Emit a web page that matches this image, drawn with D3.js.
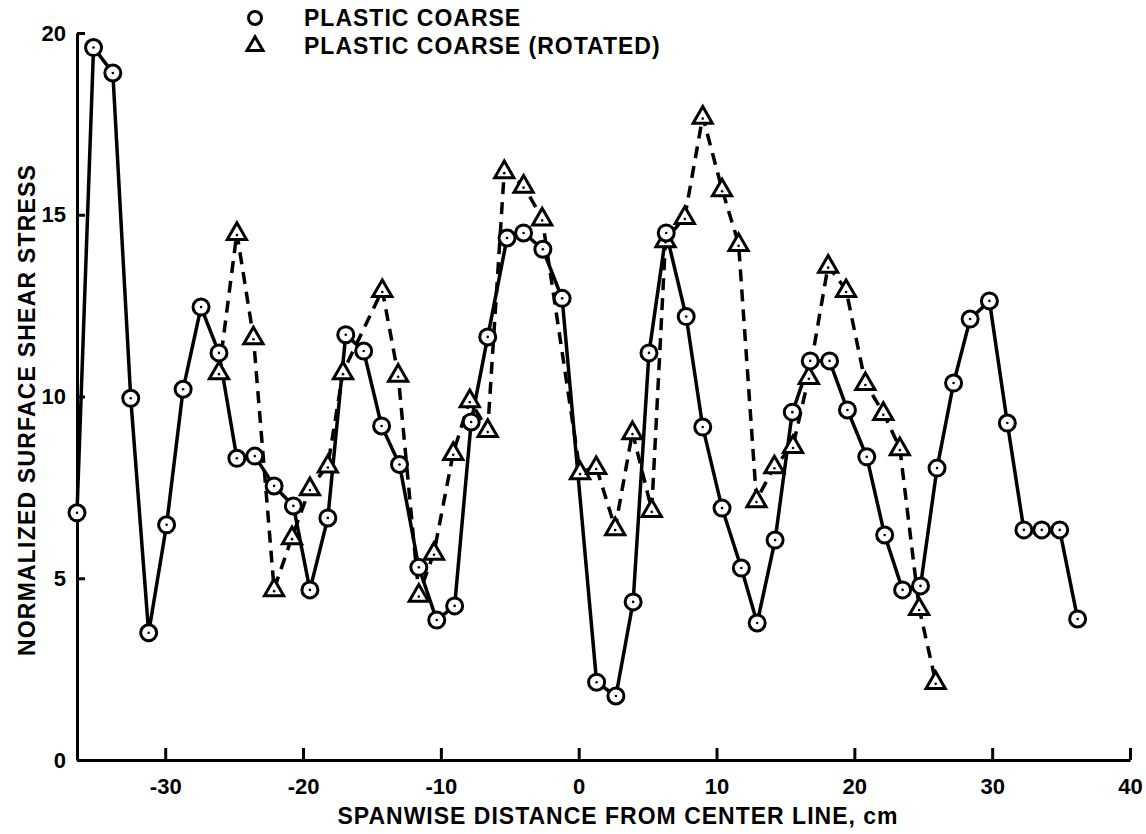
<!DOCTYPE html>
<html>
<head>
<meta charset="utf-8">
<script src="https://cdn.jsdelivr.net/npm/d3@7"></script>
<style>
  body { margin: 0; background: #fff; }
  svg { display: block; font-family: "Liberation Sans", Arial, sans-serif; }
</style>
</head>
<body>
<div id="chart"></div>
<script>
// plastic coarse (solid, circles)
const coarseX = [-36.4, -35.2, -33.8, -32.5, -31.2, -29.9, -28.7, -27.4, -26.1, -24.8, -23.5, -22.1, -20.7, -19.5, -18.2, -16.9, -15.6, -14.3, -13.0,
    -11.6, -10.3, -9.0, -7.8, -6.6, -5.2, -4.0, -2.6, -1.2, 1.3, 2.7, 3.95, 5.1, 6.35, 7.8, 9.0, 10.4, 11.8, 12.95, 14.25,
    15.5, 16.8, 18.2, 19.5, 20.9, 22.2, 23.5, 24.8, 26.0, 27.2, 28.4, 29.8, 31.1, 32.3, 33.6, 34.9, 36.2];
const coarseY = [6.8, 19.6, 18.9, 9.95, 3.5, 6.47, 10.2, 12.46, 11.2, 8.3, 8.36, 7.54, 6.99, 4.68, 6.66, 11.7, 11.25, 9.19, 8.13,
    5.3, 3.85, 4.24, 9.3, 11.64, 14.36, 14.5, 14.05, 12.7, 2.14, 1.76, 4.35, 11.2, 14.5, 12.2, 9.16, 6.93, 5.28, 3.77, 6.05,
    9.57, 10.98, 10.98, 9.63, 8.34, 6.19, 4.68, 4.79, 8.03, 10.37, 12.13, 12.63, 9.27, 6.33, 6.33, 6.33, 3.88];

// plastic coarse rotated (dashed, triangles)
const rotatedX = [-26.1, -24.8, -23.6, -22.1, -20.8, -19.5, -18.2, -17.1, -14.25, -13.1, -11.6, -10.5, -9.1, -7.9, -6.6, -5.4, -4.0, -2.65,
    0.1, 1.27, 2.65, 3.9, 5.3, 6.3, 7.7, 9.0, 10.4, 11.6, 12.9, 14.2, 15.55, 16.7, 18.1, 19.4, 20.8, 22.1, 23.3, 24.7, 25.9];
const rotatedY = [10.67, 14.5, 11.63, 4.7, 6.13, 7.48, 8.1, 10.67, 12.93, 10.6, 4.55, 5.7, 8.45, 9.9, 9.08, 16.2, 15.8, 14.9,
    7.92, 8.06, 6.38, 9.02, 6.88, 14.3, 14.94, 17.7, 15.7, 14.2, 7.15, 8.08, 8.64, 10.54, 13.6, 12.93, 10.37, 9.55, 8.58, 4.18, 2.15];

const xTicks = [-30, -20, -10, 0, 10, 20, 30, 40];
const yTicks = [0, 5, 10, 15, 20];

const width = 1146, height = 834;

const coarse = coarseX.map((d, i) => ({x: d, y: coarseY[i]}));
const rotated = rotatedX.map((d, i) => ({x: d, y: rotatedY[i]}));

let svg = d3.select("#chart")
    .append("svg")
    .attr("width", width)
    .attr("height", height);

let x = d3.scaleLinear()
    .domain([-36.4, 40])
    .range([77, 1130]);

let y = d3.scaleLinear()
    .domain([0, 20])
    .range([760, 33]);

// axes, ticks point inward like the original plot
let xAxis = svg.append("g")
    .attr("transform", `translate(0, ${y(0)})`)
    .call(d3.axisBottom(x).tickValues(xTicks).tickSizeInner(-12).tickSizeOuter(0).tickPadding(18).tickFormat(d => String(d)));

let yAxis = svg.append("g")
    .attr("transform", `translate(${x(-36.4)}, 0)`)
    .call(d3.axisLeft(y).tickValues(yTicks).tickSizeInner(-8).tickSizeOuter(0).tickPadding(11).tickFormat(d => String(d)));

[xAxis, yAxis].forEach(function(a) {
    a.selectAll("path, line").attr("stroke", "#000").attr("stroke-width", 3);
    a.selectAll("text")
        .style("font-size", "22px")
        .style("font-weight", "bold")
        .attr("fill", "#000");
});

svg.append("text")
    .attr("x", 618)
    .attr("y", 824)
    .style("text-anchor", "middle")
    .style("font-size", "23px")
    .style("font-weight", "bold")
    .style("letter-spacing", "1px")
    .text("SPANWISE DISTANCE FROM CENTER LINE, cm");

svg.append("text")
    .attr("transform", `translate(35, 410) rotate(-90)`)
    .style("text-anchor", "middle")
    .style("font-size", "23px")
    .style("font-weight", "bold")
    .style("letter-spacing", "1.2px")
    .text("NORMALIZED SURFACE SHEAR STRESS");

// lines
let line = d3.line()
    .x(d => x(d.x))
    .y(d => y(d.y));

svg.append("path")
    .datum(rotated)
    .attr("d", line)
    .attr("fill", "none")
    .attr("stroke", "#000")
    .attr("stroke-width", 3.5)
    .attr("stroke-dasharray", "12,8");

svg.append("path")
    .datum(coarse)
    .attr("d", line)
    .attr("fill", "none")
    .attr("stroke", "#000")
    .attr("stroke-width", 3.5);

// markers
let tri = d3.symbol().type(d3.symbolTriangle).size(160);

function drawTriangle(g, cx, cy) {
    g.append("path")
        .attr("d", tri)
        .attr("transform", `translate(${cx}, ${cy + 1})`)
        .attr("fill", "#fff")
        .attr("stroke", "#000")
        .attr("stroke-width", 3);
    g.append("circle")
        .attr("cx", cx).attr("cy", cy + 2).attr("r", 1.3).attr("fill", "#000");
}

function drawCircle(g, cx, cy) {
    g.append("circle")
        .attr("cx", cx).attr("cy", cy).attr("r", 8)
        .attr("fill", "#fff")
        .attr("stroke", "#000")
        .attr("stroke-width", 3);
    g.append("circle")
        .attr("cx", cx).attr("cy", cy).attr("r", 1.3).attr("fill", "#000");
}

let triG = svg.append("g");
rotated.forEach(d => drawTriangle(triG, x(d.x), y(d.y)));

let circG = svg.append("g");
coarse.forEach(d => drawCircle(circG, x(d.x), y(d.y)));

// legend
let legend = svg.append("g");
legend.append("circle")
    .attr("cx", 255).attr("cy", 18).attr("r", 6.5)
    .attr("fill", "none").attr("stroke", "#000").attr("stroke-width", 3);
legend.append("path")
    .attr("d", d3.symbol().type(d3.symbolTriangle).size(110))
    .attr("transform", "translate(255, 46)")
    .attr("fill", "none").attr("stroke", "#000").attr("stroke-width", 3);

legend.append("text")
    .attr("x", 304).attr("y", 26)
    .style("font-size", "23px").style("font-weight", "bold")
    .style("letter-spacing", "1px")
    .text("PLASTIC COARSE");
legend.append("text")
    .attr("x", 304).attr("y", 54)
    .style("font-size", "23px").style("font-weight", "bold")
    .style("letter-spacing", "1px")
    .text("PLASTIC COARSE (ROTATED)");
</script>
</body>
</html>
